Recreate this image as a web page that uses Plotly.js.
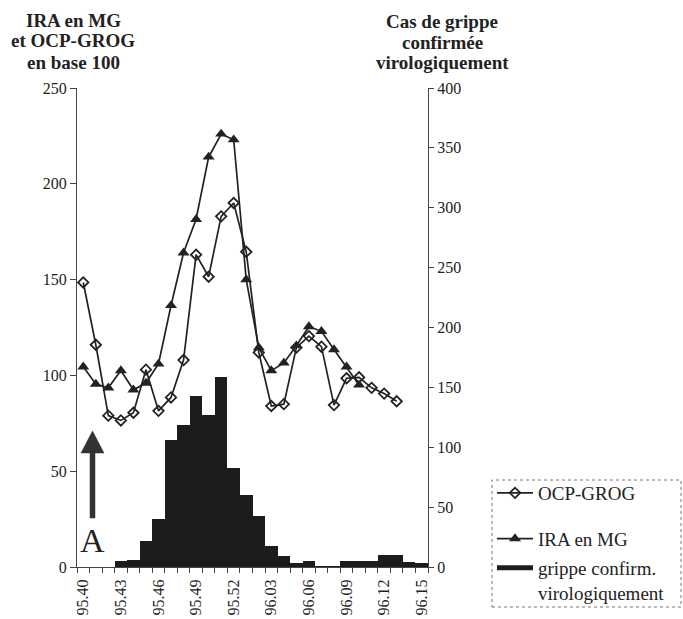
<!DOCTYPE html>
<html>
<head>
<meta charset="utf-8">
<script src="https://cdn.plot.ly/plotly-3.0.1.min.js"></script>
<style>
html,body{margin:0;padding:0;background:#fff;}
#chart{width:683px;height:619px;}
</style>
</head>
<body>
<div id="chart"></div>
<script>
// ---- data ----
const weeks = ['95.40','95.41','95.42','95.43','95.44','95.45','95.46','95.47','95.48','95.49','95.50','95.51','95.52',
               '96.01','96.02','96.03','96.04','96.05','96.06','96.07','96.08','96.09','96.10','96.11','96.12','96.13','96.14','96.15'];
const tickLabels = ['95.40','95.43','95.46','95.49','95.52','96.03','96.06','96.09','96.12','96.15'];
const ocpGrog = [148.5,116,79,76.5,80.5,103,81.5,88.5,108,163,151.5,183,190,
                 164.5,112,84,85,114.5,120.5,115,84.5,98.5,99,93.5,90.5,86.5,null,null];
const iraMG = [104.5,95.5,93.5,102.5,92.5,96,106,136.5,164,181.5,214,226,223,
               150,114.5,102.5,106.5,115.5,125.5,123,113.5,104.5,95,null,null,null,null,null];
const grippeCas = [0,0,0,5,6,22,40,106,119,143,127,159,83,
                   60,43,17.5,9,3,5,1,1,5,5,5,10,10,4.5,3];

// ---- geometry helpers (plot area in pixels) ----
const L = 77, R = 428, T = 88, B = 567;
const PX = x => (x - L) / (R - L);
const PY = y => (B - y) / (B - T);

const ink = '#222';
const serif = 'Liberation Serif, Times New Roman, serif';

const traces = [
  {
    type: 'bar', x: weeks, y: grippeCas, yaxis: 'y2',
    marker: {color: '#1c1c1c', line: {width: 0}},
    showlegend: false, hoverinfo: 'x+y'
  },
  {
    type: 'scatter', mode: 'lines+markers', x: weeks, y: ocpGrog, name: 'OCP-GROG',
    line: {color: ink, width: 1.7},
    marker: {symbol: 'diamond-open', size: 8, color: ink, line: {width: 1.8, color: ink}},
    legendgroup: 'a', legend: 'legend'
  },
  {
    type: 'scatter', mode: 'lines+markers', x: weeks, y: iraMG, name: 'IRA en MG',
    line: {color: ink, width: 1.7},
    marker: {symbol: 'triangle-up', size: 10.5, color: ink},
    legendgroup: 'b', legend: 'legend'
  },
  {
    type: 'scatter', mode: 'lines', x: [null], y: [null], name: 'grippe confirm.<br>virologiquement',
    line: {color: '#1c1c1c', width: 5},
    legendgroup: 'c', legend: 'legend2'
  }
];

const ticktext = weeks.map(w => tickLabels.includes(w) ? w : '');

const legendCommon = {
  xanchor: 'left', yanchor: 'top',
  font: {size: 19, family: serif, color: ink},
  bgcolor: 'rgba(0,0,0,0)', borderwidth: 0,
  traceorder: 'grouped', itemwidth: 36, valign: 'top'
};

const layout = {
  width: 683, height: 619,
  margin: {l: L, r: 683 - R, t: T, b: 619 - B, pad: 0, autoexpand: false},
  paper_bgcolor: '#fff', plot_bgcolor: '#fff',
  font: {family: serif, color: ink},
  bargap: 0,
  xaxis: {
    type: 'category', range: [-0.5, 27.5], automargin: false,
    tickmode: 'array', tickvals: weeks, ticktext: ticktext,
    tickson: 'boundaries', ticks: 'outside', ticklen: 5, tickcolor: '#444',
    tickangle: -90, tickfont: {size: 16, family: serif, color: ink},
    ticklabelstandoff: 5,
    showline: true, linecolor: '#444', linewidth: 1,
    showgrid: false, zeroline: false, fixedrange: true
  },
  yaxis: {
    range: [0, 250], dtick: 50, ticks: 'outside', ticklen: 6, tickcolor: '#444', automargin: false,
    tickfont: {size: 16, family: serif, color: ink},
    showline: true, linecolor: '#444', linewidth: 1,
    showgrid: false, zeroline: false, fixedrange: true
  },
  yaxis2: {
    overlaying: 'y', side: 'right', automargin: false,
    range: [0, 400], dtick: 50, ticks: 'outside', ticklen: 5, tickcolor: '#444',
    tickfont: {size: 16, family: serif, color: ink},
    showline: true, linecolor: '#444', linewidth: 1,
    showgrid: false, zeroline: false, fixedrange: true
  },
  showlegend: true,
  legend: Object.assign({}, legendCommon, {x: PX(492), y: PY(474), tracegroupgap: 18}),
  legend2: Object.assign({}, legendCommon, {x: PX(492), y: PY(549)}),
  shapes: [
    {type: 'rect', xref: 'paper', yref: 'paper',
     x0: PX(492), x1: PX(681), y0: PY(607), y1: PY(480),
     line: {color: '#777', width: 1, dash: 'dot'}, layer: 'above'},
    {type: 'path', xref: 'paper', yref: 'paper',
     path: 'M' + PX(92.5) + ',' + PY(431) +
           ' L' + PX(104) + ',' + PY(453) +
           ' L' + PX(95) + ',' + PY(453) +
           ' L' + PX(95) + ',' + PY(518) +
           ' L' + PX(90) + ',' + PY(518) +
           ' L' + PX(90) + ',' + PY(453) +
           ' L' + PX(81) + ',' + PY(453) + ' Z',
     fillcolor: '#333', line: {color: '#333', width: 0.5}, layer: 'above'}
  ],
  annotations: [
    {text: 'A', xref: 'paper', yref: 'paper', x: PX(92.5), y: PY(540), showarrow: false,
     xanchor: 'center', yanchor: 'middle', font: {size: 34, family: serif, color: ink}},
    {text: '<b>IRA en MG</b>', xref: 'paper', yref: 'paper', x: PX(73), y: PY(20), showarrow: false,
     xanchor: 'center', yanchor: 'middle', font: {size: 19, family: serif, color: ink}},
    {text: '<b>et OCP-GROG</b>', xref: 'paper', yref: 'paper', x: PX(73), y: PY(41), showarrow: false,
     xanchor: 'center', yanchor: 'middle', font: {size: 19, family: serif, color: ink}},
    {text: '<b>en base 100</b>', xref: 'paper', yref: 'paper', x: PX(73), y: PY(62), showarrow: false,
     xanchor: 'center', yanchor: 'middle', font: {size: 19, family: serif, color: ink}},
    {text: '<b>Cas de grippe</b>', xref: 'paper', yref: 'paper', x: PX(442), y: PY(21), showarrow: false,
     xanchor: 'center', yanchor: 'middle', font: {size: 19, family: serif, color: ink}},
    {text: '<b>confirmée</b>', xref: 'paper', yref: 'paper', x: PX(442), y: PY(42), showarrow: false,
     xanchor: 'center', yanchor: 'middle', font: {size: 19, family: serif, color: ink}},
    {text: '<b>virologiquement</b>', xref: 'paper', yref: 'paper', x: PX(442), y: PY(63), showarrow: false,
     xanchor: 'center', yanchor: 'middle', font: {size: 19, family: serif, color: ink}}
  ]
};

Plotly.newPlot('chart', traces, layout, {displayModeBar: false, staticPlot: true});
</script>
</body>
</html>
